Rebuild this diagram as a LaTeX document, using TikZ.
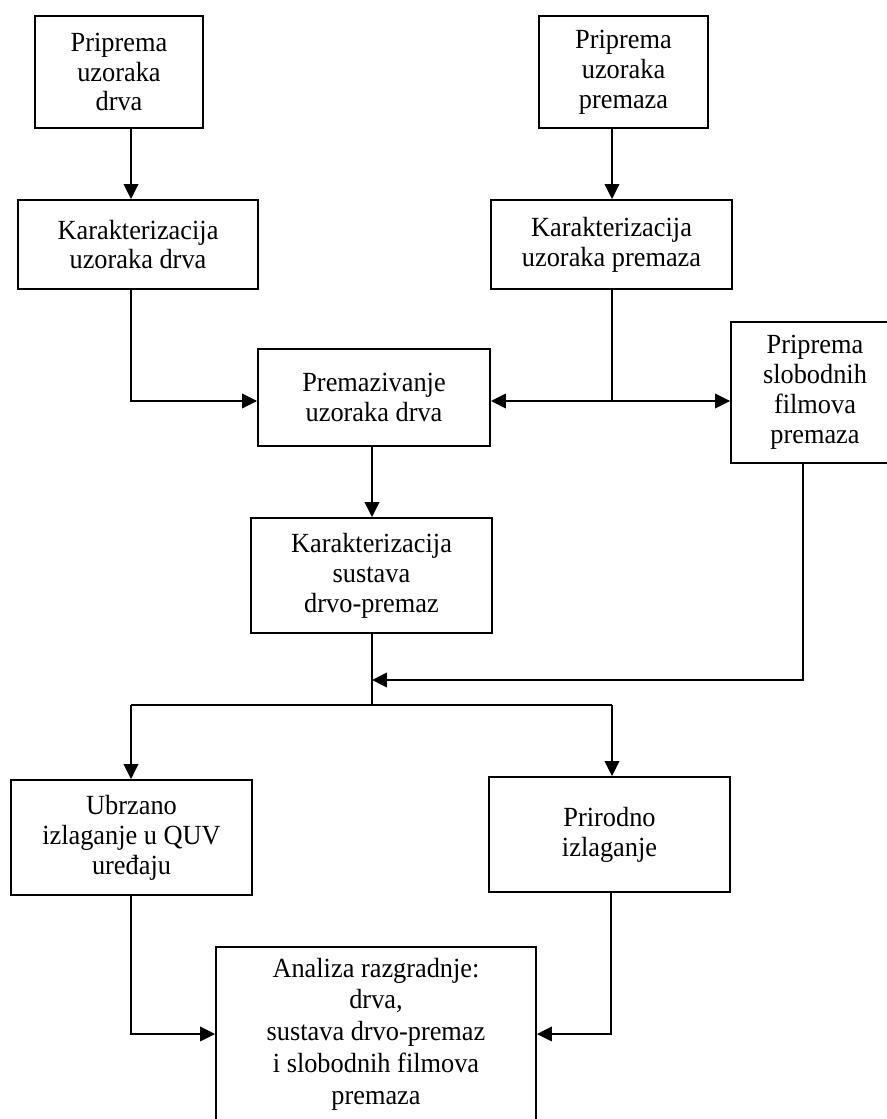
\documentclass[tikz,border=0pt]{standalone}
\usepackage{fontspec}
\setmainfont{Liberation Serif}[FakeStretch=0.95]
\usetikzlibrary{arrows.meta,positioning}
\newdimen\pxu
\pxu=0.4545pt

\begin{document}
\begin{tikzpicture}[x=0.4545pt,y=-0.4545pt,
  box/.style={draw,line width=0.85pt,align=center,inner sep=0pt,
    font=\fontsize{12.6}{13.6}\selectfont},
  sz/.style 2 args={minimum width=#1*\pxu,minimum height=#2*\pxu},
  flow/.style={-{Triangle[length=6.8pt,width=6.6pt]},line width=0.95pt},
  link/.style={line width=0.7pt}]
 \clip (0,0) rectangle (887,1119);
 \node[box,sz={168}{112}] (prepWood) at (119,72) {Priprema\\uzoraka\\drva};
 \node[box,sz={240}{89}] (charWood) at (138,244.5) {Karakterizacija\\uzoraka drva};
 \node[box,sz={169}{112}] (prepCoat) at (623.5,72) {Priprema\\uzoraka\\premaza};
 \node[box,sz={241}{89}] (charCoat) at (611.5,244.5) {Karakterizacija\\uzoraka premaza};
 \node[box,sz={232}{97}] (coating) at (374,397.5) {Premazivanje\\uzoraka drva};
 \node[box,sz={168}{141}] (film) at (815,392.5) {Priprema\\slobodnih\\filmova\\premaza};
 \node[box,sz={241}{115}] (charSys) at (371.5,575.5) {Karakterizacija\\sustava\\drvo-premaz};
 \node[box,sz={241}{115}] (quv) at (131.5,837.5) {Ubrzano\\izlaganje u QUV\\uređaju};
 \node[box,sz={241}{115}] (natural) at (609.5,834.5) {Prirodno\\izlaganje};
 \node[box,sz={320}{174},font=\fontsize{12.6}{14.4}\selectfont] (analysis) at (376,1034)
   {Analiza razgradnje:\\drva,\\sustava drvo-premaz\\i slobodnih filmova\\premaza};
 % junction points
 \coordinate (jWood) at (131,401);
 \coordinate (jCoat) at (612,401);
 \coordinate (filmOut) at (803,680);
 \coordinate (mrg) at (372,680);
 \coordinate (spl) at (372,705);
 \coordinate (splL) at (131,705);
 \coordinate (splR) at (612,705);
 \coordinate (inL) at (131,1034);
 \coordinate (inR) at (611,1034);
 \draw[flow] (prepWood.south -| jWood)--(charWood.north -| jWood);
 \draw[flow] (prepCoat.south -| jCoat)--(charCoat.north -| jCoat);
 \draw[flow] (charWood.south -| jWood)--(jWood)--(coating.west |- jWood);
 \draw[link] (charCoat.south -| jCoat)--(jCoat);
 \draw[flow] (jCoat)--(coating.east |- jCoat);
 \draw[flow] (jCoat)--(film.west |- jCoat);
 \draw[flow] (coating.south -| mrg)--(charSys.north -| mrg);
 \draw[flow] (film.south -| filmOut)--(filmOut)--(mrg);
 \draw[link] (charSys.south -| spl)--(spl);
 \draw[link] (splL)--(splR);
 \draw[flow] (splL)--(quv.north -| splL);
 \draw[flow] (splR)--(natural.north -| splR);
 \draw[flow] (quv.south -| inL)--(inL)--(analysis.west |- inL);
 \draw[flow] (natural.south -| inR)--(inR)--(analysis.east |- inR);
\end{tikzpicture}
\end{document}
